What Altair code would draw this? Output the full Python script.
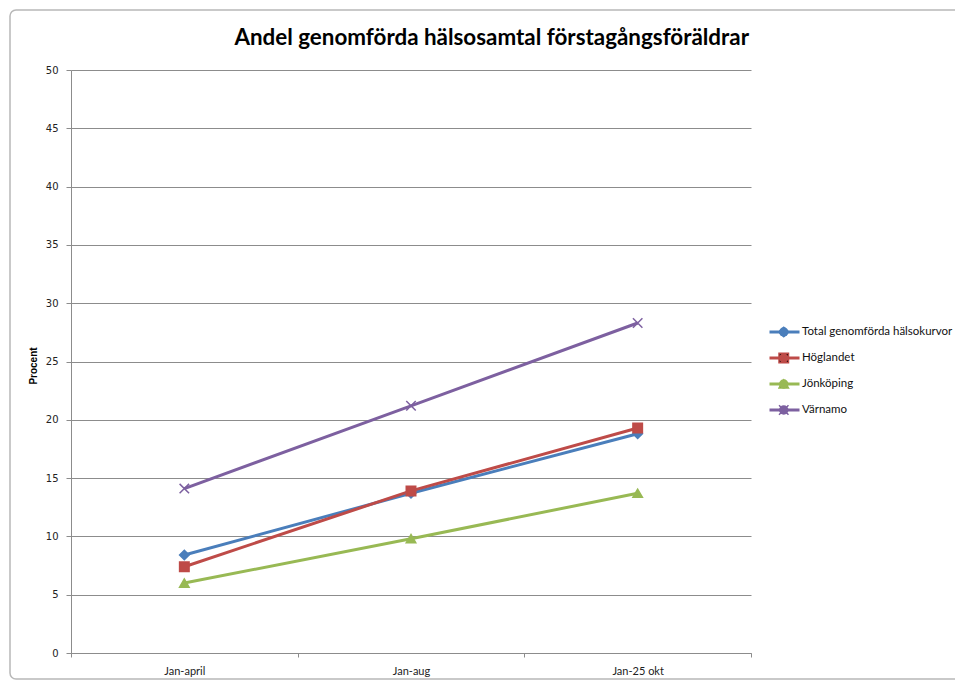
import altair as alt
import pandas as pd

periods = ["Jan-april", "Jan-aug", "Jan-25 okt"]
series = ["Total genomförda hälsokurvor", "Höglandet", "Jönköping", "Värnamo"]
total = [8.4, 13.7, 18.8]
hoglandet = [7.4, 13.9, 19.3]
jonkoping = [6.0, 9.8, 13.7]
varnamo = [14.1, 21.2, 28.3]

colors = ["#4a7ebb", "#be4b48", "#98b954", "#7d60a0"]
shapes = ["diamond", "square", "triangle-up", "M-1,-1L1,1M-1,1L1,-1"]

rows = []
for name, vals in zip(series, [total, hoglandet, jonkoping, varnamo]):
    for p, v in zip(periods, vals):
        rows.append({"serie": name, "s2": name, "period": p, "value": v})
df = pd.DataFrame(rows)

W, H = 680, 583

x_enc = alt.X("period:N", sort=periods, title=None,
              scale=alt.Scale(paddingInner=0, paddingOuter=0),
              axis=alt.Axis(labelAngle=0, tickBand="extent", tickSize=4, ticks=True,
                            domainColor="#8c8c8c", tickColor="#8c8c8c",
                            labelFont="Lato", labelFontSize=11, labelColor="#222222",
                            labelPadding=8, grid=False))
y_enc = alt.Y("value:Q", title="Procent",
              scale=alt.Scale(domain=[0, 50], nice=False),
              axis=alt.Axis(values=list(range(0, 55, 5)), tickSize=5, labelPadding=8,
                            labelFont="DejaVu Sans", labelFontSize=10, labelColor="#222222",
                            domainColor="#8c8c8c", tickColor="#8c8c8c",
                            gridColor="#8c8c8c", gridWidth=1,
                            titleFont="Liberation Sans", titleFontSize=10,
                            titleFontWeight="bold", titleColor="#000000",
                            titleX=-33, titleY=H / 2 + 4))

base = alt.Chart(df)

line_legend = alt.Legend(title=None, orient="none", legendX=697, legendY=254,
                         symbolType="stroke", symbolSize=900, symbolStrokeWidth=3,
                         labelFont="Lato", labelFontSize=11.5, labelColor="#111111",
                         labelLimit=260, clipHeight=16, rowPadding=10, padding=0,
                         labelOffset=1)
pt_legend = alt.Legend(title=None, orient="none", legendX=707, legendY=254,
                       symbolSize=90, symbolStrokeWidth=1.5, labelExpr="''",
                       labelFontSize=11.5, clipHeight=16, rowPadding=10, padding=0)

lines = base.mark_line(strokeWidth=3).encode(
    x=x_enc, y=y_enc,
    color=alt.Color("serie:N", sort=series,
                    scale=alt.Scale(domain=series, range=colors), legend=line_legend),
)

points = base.mark_point(filled=True, size=90, strokeWidth=1.5, opacity=1).encode(
    x=x_enc, y=y_enc,
    color=alt.Color("s2:N", sort=series,
                    scale=alt.Scale(domain=series, range=colors), legend=pt_legend),
    stroke=alt.Stroke("s2:N", sort=series,
                      scale=alt.Scale(domain=series, range=colors), legend=pt_legend),
    shape=alt.Shape("s2:N", sort=series,
                    scale=alt.Scale(domain=series, range=shapes), legend=pt_legend),
)

frame = alt.Chart(pd.DataFrame({"a": [0]})).mark_rect(
    fill="transparent", stroke="#b8b8b8", strokeWidth=1.5, cornerRadius=6
).encode(x=alt.value(-61), x2=alt.value(900), y=alt.value(-60), y2=alt.value(609))

chart = alt.layer(frame, lines, points).resolve_scale(color="independent").properties(
    width=W, height=H,
    autosize=alt.AutoSizeParams(type="none"),
    padding={"left": 63, "top": 62, "right": 204, "bottom": 27},
    title=alt.TitleParams("Andel genomförda hälsosamtal förstagångsföräldrar",
                          anchor="end", frame="group", font="Lato", fontSize=22.4,
                          fontWeight="bold", color="#000000", offset=18, dy=58, dx=-2),
).configure_view(stroke=None)

chart.save("out.html", embed_options={"renderer": "svg", "actions": False})
